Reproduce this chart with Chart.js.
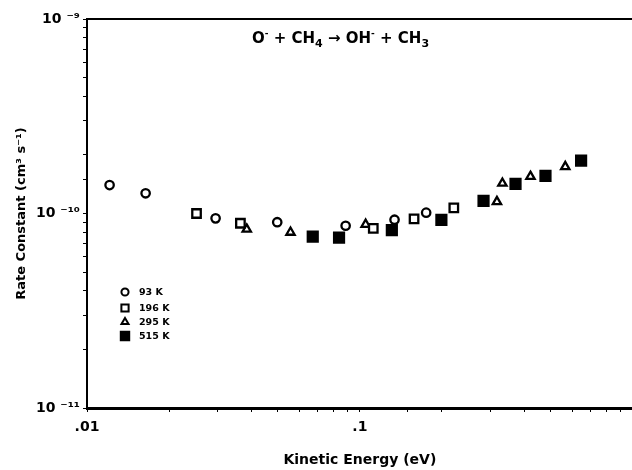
<!DOCTYPE html>
<html>
<head>
<meta charset="utf-8">
<script src="https://cdn.jsdelivr.net/npm/chart.js@4.4.1/dist/chart.umd.min.js"></script>
<style>
  html, body { margin: 0; padding: 0; background: #fff; }
  #wrap { position: relative; width: 632px; height: 470px; overflow: hidden; }
  #chart { position: absolute; left: 0; top: 0; }
  #reaction {
    position: absolute; left: 252px; top: 29px; white-space: nowrap;
    font: bold 15px "DejaVu Sans", Arial, sans-serif; color: #000;
  }
  #reaction sup { font-size: 9px; vertical-align: baseline; position: relative; top: -7px; }
  #reaction sub { font-size: 11px; vertical-align: baseline; position: relative; top: 4px; }
</style>
</head>
<body>
<div id="wrap">
  <canvas id="chart" width="642" height="470"></canvas>
  <div id="reaction">O<sup>-</sup> + CH<sub>4</sub> &rarr; OH<sup>-</sup> + CH<sub>3</sub></div>
</div>
<script>
// kinetic energy (eV) and rate constant (cm3 s-1) per temperature
const energy93 = [0.0121, 0.0164, 0.0296, 0.0498, 0.0887, 0.134, 0.175];
const rate93 = [1.40e-10, 1.27e-10, 0.944e-10, 0.902e-10, 0.865e-10, 0.929e-10, 1.01e-10];

const energy196 = [0.0252, 0.0365, 0.112, 0.158, 0.221];
const rate196 = [1.00e-10, 0.891e-10, 0.839e-10, 0.938e-10, 1.07e-10];

const energy295 = [0.0385, 0.0557, 0.105, 0.318, 0.333, 0.422, 0.566];
const rate295 = [0.83e-10, 0.80e-10, 0.879e-10, 1.15e-10, 1.43e-10, 1.55e-10, 1.74e-10];

const energy515 = [0.0672, 0.0839, 0.131, 0.199, 0.284, 0.372, 0.479, 0.647];
const rate515 = [0.761e-10, 0.752e-10, 0.822e-10, 0.927e-10, 1.16e-10, 1.42e-10, 1.56e-10, 1.87e-10];

const seriesLabels = ['93 K', '196 K', '295 K', '515 K'];

const xTickValues = [0.01, 0.1];
const xTickLabels = ['.01', '.1'];
const yTickValues = [1e-11, 1e-10, 1e-9];
const yTickLabels = ['10 \u207B\u00B9\u00B9', '10 \u207B\u00B9\u2070', '10 \u207B\u2079'];

const FONT = '"DejaVu Sans", "Liberation Sans", Arial, sans-serif';

function toPoints(xs, ys) {
    return xs.map((x, i) => ({ x: x, y: ys[i] }));
}

function labelFor(value, values, labels) {
    for (let i = 0; i < values.length; i++) {
        if (Math.abs(Math.log10(value) - Math.log10(values[i])) < 1e-6) return labels[i];
    }
    return '';
}

const markerStyles = [
    { pointStyle: 'circle', radius: 4.2, fill: '#fff' },
    { pointStyle: 'rect', radius: 6.0, fill: '#fff' },
    { pointStyle: 'triangle', radius: 4.8, fill: '#fff' },
    { pointStyle: 'rect', radius: 7.0, fill: '#000' }
];

const allData = [
    toPoints(energy93, rate93),
    toPoints(energy196, rate196),
    toPoints(energy295, rate295),
    toPoints(energy515, rate515)
];

const datasets = allData.map((pts, i) => ({
    label: seriesLabels[i],
    data: pts,
    showLine: false,
    pointStyle: markerStyles[i].pointStyle,
    pointRadius: markerStyles[i].radius,
    pointHoverRadius: markerStyles[i].radius,
    pointBorderWidth: 2.3,
    pointBorderColor: '#000',
    pointBackgroundColor: markerStyles[i].fill
}));

// top frame line + in-plot legend
const framePlugin = {
    id: 'frame',
    afterDraw(chart) {
        const ctx = chart.ctx;
        const area = chart.chartArea;
        ctx.save();
        ctx.strokeStyle = '#000';
        ctx.lineWidth = 2;
        ctx.beginPath();
        ctx.moveTo(area.left, area.top);
        ctx.lineTo(area.right + 10, area.top);
        ctx.stroke();

        const legendX = 125;
        const legendY = [292, 308, 322, 336];
        ctx.font = 'bold 9.5px ' + FONT;
        ctx.textBaseline = 'middle';
        seriesLabels.forEach((label, i) => {
            const m = markerStyles[i];
            ctx.fillStyle = m.fill;
            ctx.strokeStyle = '#000';
            ctx.lineWidth = 2;
            Chart.helpers.drawPoint(ctx, {
                pointStyle: m.pointStyle,
                radius: m.radius * 0.85,
                borderWidth: 2,
                rotation: 0
            }, legendX, legendY[i]);
            ctx.fillStyle = '#000';
            ctx.fillText(label, legendX + 14, legendY[i] + 1);
        });
        ctx.restore();
    }
};

new Chart(document.getElementById('chart'), {
    type: 'scatter',
    data: { datasets: datasets },
    plugins: [framePlugin],
    options: {
        responsive: false,
        animation: false,
        layout: { padding: { top: 19, left: 0, right: 0, bottom: 0 } },
        plugins: {
            legend: { display: false },
            tooltip: { enabled: false }
        },
        scales: {
            x: {
                type: 'logarithmic',
                min: 0.01,
                max: 1,
                afterFit: (scale) => { scale.height = 62; },
                border: { display: true, color: '#000', width: 3 },
                grid: { drawOnChartArea: false, color: '#000', tickLength: 4, lineWidth: 1 },
                ticks: {
                    autoSkip: false,
                    maxRotation: 0,
                    padding: 7,
                    color: '#000',
                    font: { family: FONT, size: 14, weight: 'bold' },
                    callback: (value) => labelFor(value, xTickValues, xTickLabels)
                },
                title: {
                    display: true,
                    text: 'Kinetic Energy (eV)',
                    color: '#000',
                    font: { family: FONT, size: 14, weight: 'bold' },
                    padding: { top: 0, bottom: 1 }
                }
            },
            y: {
                type: 'logarithmic',
                min: 1e-11,
                max: 1e-9,
                afterFit: (scale) => { scale.width = 87; },
                border: { display: true, color: '#000', width: 2 },
                grid: { drawOnChartArea: false, color: '#000', tickLength: 4, lineWidth: 1 },
                ticks: {
                    autoSkip: false,
                    padding: 3,
                    color: '#000',
                    font: { family: FONT, size: 14, weight: 'bold' },
                    callback: (value) => labelFor(value, yTickValues, yTickLabels)
                },
                title: {
                    display: true,
                    text: 'Rate Constant (cm\u00B3 s\u207B\u00B9)',
                    color: '#000',
                    font: { family: FONT, size: 13, weight: 'bold' },
                    padding: { top: 14, bottom: 0 }
                }
            }
        }
    }
});
</script>
</body>
</html>
